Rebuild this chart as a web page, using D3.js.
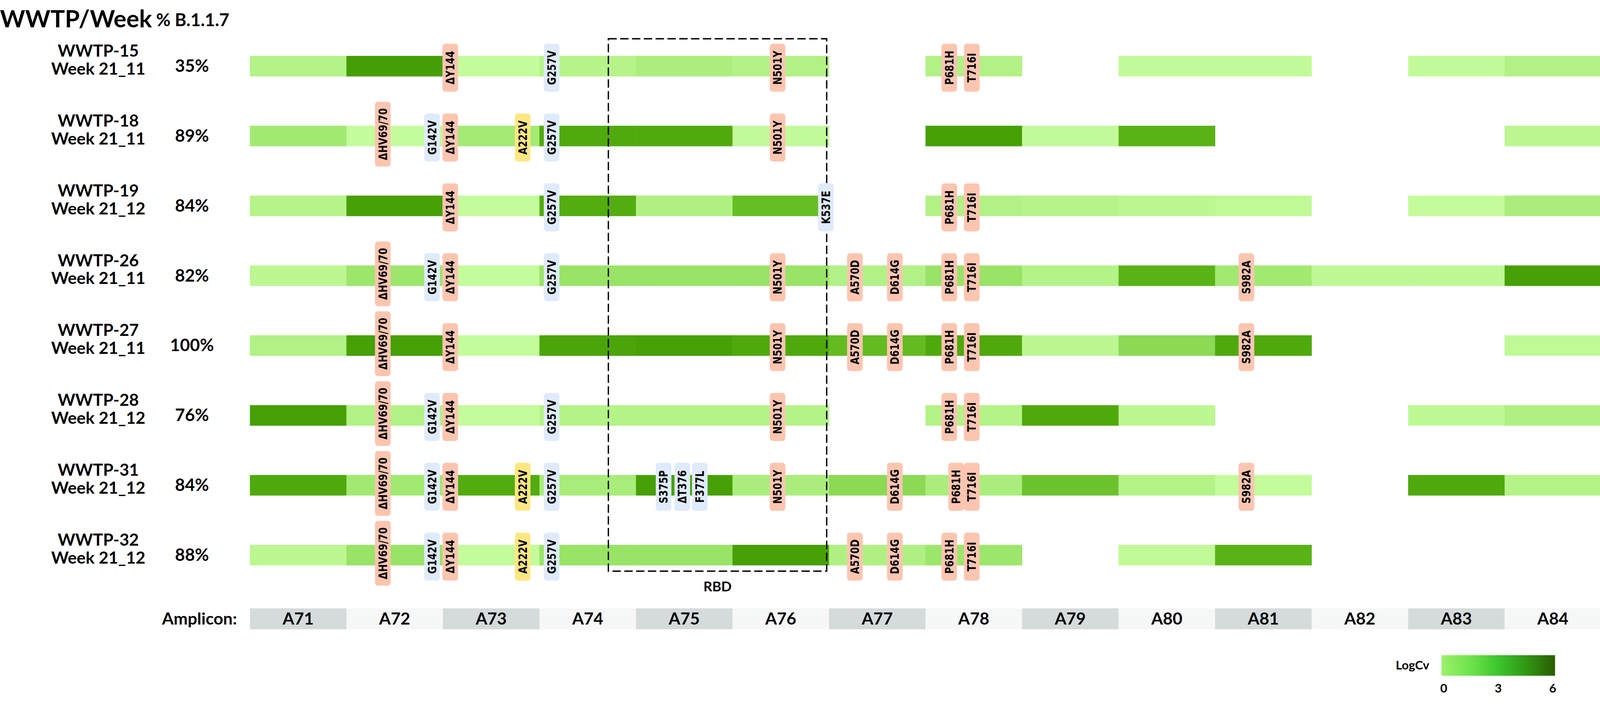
<!DOCTYPE html>
<html>
<head>
<meta charset="utf-8">
<script src="https://cdnjs.cloudflare.com/ajax/libs/d3/7.8.5/d3.min.js"></script>
<style>
html,body{margin:0;padding:0;background:#fff;overflow:hidden;}
svg{display:block;width:100vw;height:100vh;}
svg text{font-family:Lato,"Open Sans",sans-serif;font-weight:700;fill:#000;}
svg .mut text{font-family:"DejaVu Sans",sans-serif;font-weight:700;}
</style>
</head>
<body>
<div id="plot"></div>
<script>
// rows = one WWTP sample each
var sites = ['WWTP-15','WWTP-18','WWTP-19','WWTP-26','WWTP-27','WWTP-28','WWTP-31','WWTP-32'];
var weeks = ['Week 21_11','Week 21_11','Week 21_12','Week 21_11','Week 21_11','Week 21_12','Week 21_12','Week 21_12'];
var pctB117 = ['35%','89%','84%','82%','100%','76%','84%','88%'];

var amplicons = ['A71','A72','A73','A74','A75','A76','A77','A78','A79','A80','A81','A82','A83','A84'];

// LogCv per amplicon (null = no coverage)
var logCv = [
    [1.0,5.6,0.2,0.9,1.4,1.1,null,1.1,null,0.3,0.3,null,0.3,1.1],
    [1.9,0.2,1.8,4.8,4.8,0.3,null,5.5,0.3,4.2,null,null,null,0.6],
    [0.9,5.5,0.2,4.6,1.2,3.7,null,1.1,0.9,0.6,0.4,null,0.2,1.5],
    [0.6,2.1,0.2,2.2,2.2,2.2,1.1,2.2,1.0,4.2,1.9,0.5,0.5,5.5],
    [1.1,5.5,0.2,5.2,5.5,4.9,3.8,4.9,0.6,2.6,4.9,null,null,0.4],
    [5.5,1.1,0.2,1.0,1.0,1.0,null,1.0,4.9,0.6,null,null,0.5,1.2],
    [4.9,1.9,4.7,1.6,5.5,1.5,2.6,1.5,3.5,1.0,0.2,null,4.9,1.0],
    [0.6,2.2,0.2,2.2,2.2,5.5,1.2,2.1,null,0.4,4.2,null,null,null]
];

// spike mutations: name, group, slot along the amplicon axis (amplicon units)
var mutNames  = ['ΔHV69/70','G142V','ΔY144','A222V','G257V','S375P','ΔT376','F377L','N501Y','K537E','A570D','D614G','P681H','T716I','S982A'];
var mutGroups = ['b117','other','b117','b1177','other','other','other','other','b117','other','b117','b117','b117','b117','b117'];
var mutSlots  = [1.377,1.887,2.076,2.826,3.126,4.286,4.480,4.661,5.467,5.968,6.268,6.682,7.246,7.479,10.325];

// mutations found in each sample
var rowMuts = [
    ['ΔY144','G257V','N501Y','P681H','T716I'],
    ['ΔHV69/70','G142V','ΔY144','A222V','G257V','N501Y'],
    ['ΔY144','G257V','K537E','P681H','T716I'],
    ['ΔHV69/70','G142V','ΔY144','G257V','N501Y','A570D','D614G','P681H','T716I','S982A'],
    ['ΔHV69/70','ΔY144','N501Y','A570D','D614G','P681H','T716I','S982A'],
    ['ΔHV69/70','G142V','ΔY144','G257V','N501Y','P681H','T716I'],
    ['ΔHV69/70','G142V','ΔY144','A222V','G257V','S375P','ΔT376','F377L','N501Y','D614G','P681H','T716I','S982A'],
    ['ΔHV69/70','G142V','ΔY144','A222V','G257V','A570D','D614G','P681H','T716I']
];
// one label nudged in WWTP-31
var slotShift = {'WWTP-31|P681H': 7.318};

var rbdSpan = [3.714, 5.976];
var legendTicks = [0,3,6];

var W = 4200, H = 1828;
// viewBox so the drawing fills the window width, pinned to the top
var svg = d3.select('#plot').append('svg')
    .attr('viewBox','0 0 '+W+' '+H)
    .attr('preserveAspectRatio','xMinYMin meet');

//scales
var scaleX = d3.scaleBand().domain(amplicons).range([656,4203]);
var scaleU = d3.scaleLinear().domain([0,amplicons.length]).range([656,4203]);
var scaleY = d3.scaleBand().domain(sites).range([82,1549]);
var barH = 54;
function rowMid(s){ return scaleY(s) + scaleY.bandwidth()/2; }

var cellColor = d3.scaleLinear().domain([0,2,4,6]).range(['#c8fda0','#a0e870','#5cb618','#3f9800']);
var groupFill = {b117:'#fcc5b0', other:'#dfebfc', b1177:'#fee783'};

//title
svg.append('text').attr('x',0).attr('y',72).style('font-size','63px').text('WWTP/Week');
svg.append('text').attr('x',410).attr('y',69).style('font-size','46px').text('% B.1.1.7');

//row labels
var rowG = svg.append('g').attr('class','rows').selectAll('g').data(sites).enter().append('g')
    .attr('transform',function(d){ return 'translate(0,'+rowMid(d)+')'; });
rowG.append('text').attr('x',258).attr('y',-25).attr('text-anchor','middle').style('font-size','44px').text(function(d){return d;});
rowG.append('text').attr('x',258).attr('y',22).attr('text-anchor','middle').style('font-size','44px').text(function(d,i){return weeks[i];});
rowG.append('text').attr('x',504).attr('y',15).attr('text-anchor','middle').style('font-size','45px').text(function(d,i){return pctB117[i];});

//heat cells
var cells = [];
logCv.forEach(function(r,i){
    r.forEach(function(v,j){ if(v!==null) cells.push({site:sites[i],amp:amplicons[j],v:v}); });
});
svg.append('g').attr('class','cells').selectAll('rect').data(cells).enter().append('rect')
    .attr('x',function(d){return scaleX(d.amp);})
    .attr('y',function(d){return rowMid(d.site)-barH/2;})
    .attr('width',scaleX.bandwidth()+0.5)
    .attr('height',barH)
    .attr('fill',function(d){return cellColor(d.v);});

//RBD dashed box
var rbdTop = rowMid(sites[0]) - 72, rbdBot = rowMid(sites[sites.length-1]) + 42;
svg.append('rect')
    .attr('x',scaleU(rbdSpan[0])).attr('y',rbdTop)
    .attr('width',scaleU(rbdSpan[1])-scaleU(rbdSpan[0])).attr('height',rbdBot-rbdTop)
    .attr('fill','none').attr('stroke','#000').attr('stroke-width',3.5).attr('stroke-dasharray','22,9');
svg.append('text').attr('x',(scaleU(rbdSpan[0])+scaleU(rbdSpan[1]))/2).attr('y',1552)
    .attr('text-anchor','middle').style('font-size','36px').text('RBD');

//mutation tags
var tags = [];
rowMuts.forEach(function(list,i){
    list.forEach(function(m){
        var k = mutNames.indexOf(m);
        var slot = slotShift[sites[i]+'|'+m] || mutSlots[k];
        tags.push({site:sites[i],name:m,group:mutGroups[k],slot:slot});
    });
});
var squeeze = 0.82;
var tagG = svg.append('g').attr('class','mut').selectAll('g').data(tags).enter().append('g')
    .attr('transform',function(d){return 'translate('+scaleU(d.slot)+','+rowMid(d.site)+') rotate(-90)';});
tagG.append('text')
    .attr('text-anchor','middle').attr('dy','0.36em')
    .attr('transform','scale('+squeeze+',1)')
    .style('font-size','30px')
    .text(function(d){return d.name;});
tagG.each(function(d){
    var g = d3.select(this);
    var len = g.select('text').node().getComputedTextLength()*squeeze;
    var h = Math.max(126, len+34);
    var off = -4 + (h-126)*0.2;   // along rotated axis: positive = upward
    g.insert('rect','text')
        .attr('x',-h/2+off).attr('y',-20.5).attr('width',h).attr('height',41)
        .attr('rx',8).attr('ry',8)
        .attr('fill',groupFill[d.group]);
    g.select('text').attr('x',off/squeeze);
});

//amplicon strip
var ampY = 1597, ampH = 55;
svg.append('text').attr('x',622).attr('y',1640).attr('text-anchor','end').style('font-size','44px').text('Amplicon:');
var ampG = svg.append('g').attr('class','amplicons').selectAll('g').data(amplicons).enter().append('g');
ampG.append('rect')
    .attr('x',function(d){return scaleX(d);}).attr('y',ampY)
    .attr('width',scaleX.bandwidth()+0.5).attr('height',ampH)
    .attr('fill',function(d,i){return i%2===0 ? '#d5dbdb' : '#f6f7f7';});
ampG.append('text')
    .attr('x',function(d){return scaleX(d)+scaleX.bandwidth()/2;}).attr('y',1640)
    .attr('text-anchor','middle').style('font-size','44px').text(function(d){return d;});

//legend
var legX = d3.scaleLinear().domain([0,6]).range([3790,4076]);
var legColor = d3.scaleLinear().domain([0,1.5,3,4.5,6]).range(['#9cf06c','#6ee44b','#3dc52e','#2f9614','#2b5c00']);
var grad = svg.append('defs').append('linearGradient').attr('id','logcv');
d3.range(0,6.01,0.5).forEach(function(v){
    grad.append('stop').attr('offset',(v/6*100)+'%').attr('stop-color',legColor(v));
});
svg.append('rect').attr('x',legX(0)-6).attr('y',1720).attr('width',legX(6)-legX(0)+12).attr('height',54).attr('fill','url(#logcv)');
svg.append('text').attr('x',3752).attr('y',1758).attr('text-anchor','end').style('font-size','32px').text('LogCv');
svg.append('g').selectAll('text').data(legendTicks).enter().append('text')
    .attr('x',function(d){return legX(d);}).attr('y',1818)
    .attr('text-anchor','middle').style('font-size','32px').text(function(d){return d;});
</script>
</body>
</html>
